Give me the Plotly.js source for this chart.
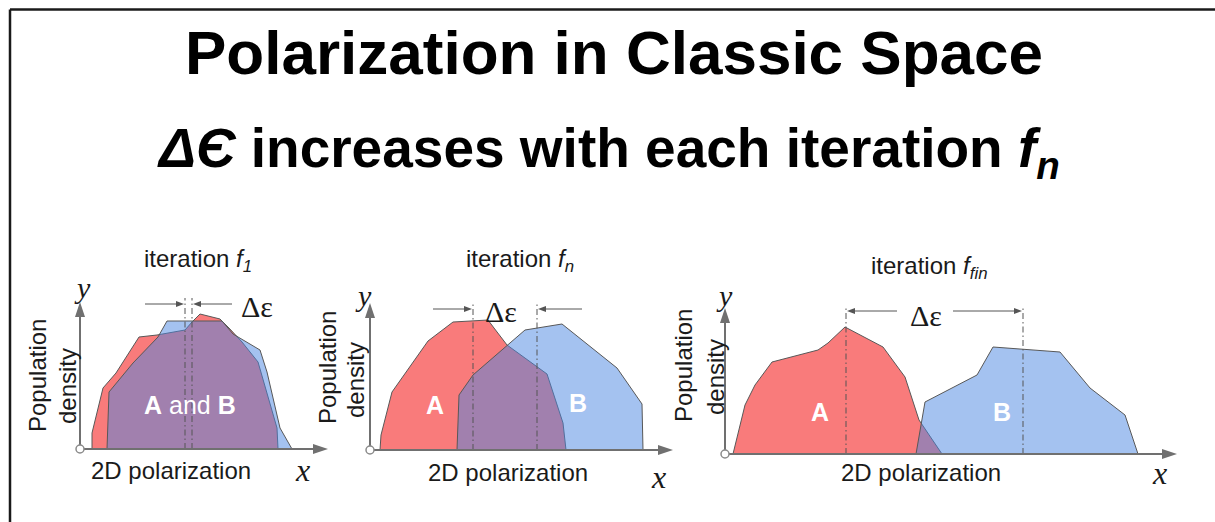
<!DOCTYPE html>
<html>
<head>
<meta charset="utf-8">
<script src="https://cdn.plot.ly/plotly-3.0.1.min.js"></script>
<style>
  html, body { margin: 0; padding: 0; background: #fff; }
  #chart { width: 1215px; height: 522px; }
</style>
</head>
<body>
<div id="chart"></div>
<script>
/* Population density of groups A and B along the polarization axis,
   read off the three panels (x = polarization, y = density). */

// iteration f1
const f1_A_x = [12, 12, 23, 36, 59, 77, 105, 112, 120, 140, 149, 162, 178, 197, 198];
const f1_A_y = [0, 16, 61, 76, 112, 114, 119, 127, 135, 130, 121, 107, 87, 21, 0];
const f1_B_x = [27, 29, 53, 78, 87, 112, 142, 153, 180, 187, 200, 212];
const f1_B_y = [0, 57, 86, 112, 128, 128, 128, 115, 99, 77, 21, 0];

// iteration fn
const fn_A_x = [10, 11, 22, 58, 83, 118, 124, 137, 177, 193, 196];
const fn_A_y = [0, 15, 58, 109, 128, 130, 122, 105, 76, 27, 0];
const fn_B_x = [87, 89, 103, 155, 192, 247, 272, 273];
const fn_B_y = [0, 55, 75, 120, 126, 82, 46, 0];

// iteration ffin
const ffin_A_x = [8, 20, 30, 47, 93, 103, 120, 158, 180, 194, 217];
const ffin_A_y = [0, 49, 69, 92, 104, 111, 127, 107, 77, 34, 0];
const ffin_B_x = [191, 200, 252, 268, 335, 365, 400, 413];
const ffin_B_y = [0, 52, 79, 107, 102, 66, 39, 0];

// centres of A and B (dash-dot markers) and where the delta-epsilon arrows start
const f1_centres = [105, 112];
const fn_centres = [103, 167];
const ffin_centres = [121, 298];
const f1_arrowTails = [65, 152];
const fn_arrowTails = [63, 212];
const ffin_arrowTails = [172, 228];

const iterationLabels = ['iteration <i>f<sub>1</sub></i>', 'iteration <i>f<sub>n</sub></i>', 'iteration <i>f<sub>fin</sub></i>'];
const groupLabels = [['<b>A</b> and <b>B</b>'], ['<b>A</b>', '<b>B</b>'], ['<b>A</b>', '<b>B</b>']];

const W = 1215, H = 522;
const px = x => x / W;
const py = y => 1 - y / H;

const RED = '#F97B7B';
const BLUE = 'rgba(73,133,225,0.5)';
const EDGE = '#585858';
const AXIS = '#707070';
const SANS = 'Liberation Sans, Arial, sans-serif';
const SERIF = 'Liberation Serif, Times New Roman, serif';

// panel placement on the page (pixels), one unit of data = one pixel
const panels = [
    { ox: 80, oy: 449, xLen: 248, yLen: 147, A: [f1_A_x, f1_A_y], B: [f1_B_x, f1_B_y],
      centres: f1_centres, tails: f1_arrowTails, top: 151, arrowY: 145,
      title: [198, 260], xlab: [171, 470], pop: [37, 376], dens: [67, 386], ysym: [82, 287], xsym: [302, 470],
      de: [257, 306], groups: [[190, 405]] },
    { ox: 370, oy: 450, xLen: 303, yLen: 147, A: [fn_A_x, fn_A_y], B: [fn_B_x, fn_B_y],
      centres: fn_centres, tails: fn_arrowTails, top: 147, arrowY: 141,
      title: [520, 260], xlab: [508, 472], pop: [327, 368], dens: [355, 380], ysym: [363, 295], xsym: [658, 477],
      de: [501, 311], groups: [[435, 405], [578, 403]] },
    { ox: 725, oy: 454, xLen: 452, yLen: 146, A: [ffin_A_x, ffin_A_y], B: [ffin_B_x, ffin_B_y],
      centres: ffin_centres, tails: ffin_arrowTails, top: 147, arrowY: 143,
      title: [929, 267], xlab: [921, 472], pop: [683, 366], dens: [715, 377], ysym: [724, 295], xsym: [1159, 473],
      de: [926, 315], groups: [[820, 412], [1002, 412]] }
];

function arrowShapes(xref, yref, x0, y0, x1, y1, color, width, hl, hw) {
    const len = Math.hypot(x1 - x0, y1 - y0);
    const ux = (x1 - x0) / len, uy = (y1 - y0) / len;
    const bx = x1 - ux * hl, by = y1 - uy * hl;
    const nx = -uy * hw, ny = ux * hw;
    return [
        { type: 'line', xref, yref, x0, y0, x1: bx, y1: by, line: { color, width } },
        { type: 'path', xref, yref, path: `M${x1},${y1} L${bx + nx},${by + ny} L${bx - nx},${by - ny} Z`,
          fillcolor: color, line: { color, width: 0 } }
    ];
}

const traces = [];
const shapes = [];
const annotations = [];
const layout = {
    width: W, height: H,
    margin: { l: 0, r: 0, t: 0, b: 0 },
    paper_bgcolor: '#fff', plot_bgcolor: 'rgba(0,0,0,0)',
    showlegend: false
};

function label(text, x, y, size, opts) {
    annotations.push(Object.assign({
        text, x: px(x), y: py(y), xref: 'paper', yref: 'paper',
        showarrow: false, xanchor: 'center', yanchor: 'middle',
        font: { family: SANS, size, color: '#1a1a1a' }
    }, opts || {}));
}

panels.forEach((p, i) => {
    const n = i === 0 ? '' : String(i + 1);
    const xr = [-25, p.xLen + 10], yr = [-20, p.yLen + 22];
    layout['xaxis' + n] = { domain: [px(p.ox + xr[0]), px(p.ox + xr[1])], range: xr, visible: false, fixedrange: true };
    layout['yaxis' + n] = { domain: [py(p.oy - yr[0]), py(p.oy - yr[1])], range: yr, visible: false, fixedrange: true, anchor: 'x' + n };
    layout['xaxis' + n].anchor = 'y' + n;
    const xref = 'x' + n, yref = 'y' + n;

    traces.push({ x: p.A[0], y: p.A[1], xaxis: xref, yaxis: yref, mode: 'lines', fill: 'toself',
                  fillcolor: RED, line: { color: EDGE, width: 1 }, hoverinfo: 'skip' });
    traces.push({ x: p.B[0], y: p.B[1], xaxis: xref, yaxis: yref, mode: 'lines', fill: 'toself',
                  fillcolor: BLUE, line: { color: EDGE, width: 1 }, hoverinfo: 'skip' });

    // centre markers
    p.centres.forEach(c => {
        shapes.push({ type: 'line', xref, yref, x0: c, x1: c, y0: 0, y1: p.top,
                      line: { color: '#555', width: 1, dash: '6px,3px,1.5px,3px' } });
    });
    // delta-epsilon arrows
    p.tails.forEach((t, k) => {
        const c = p.centres[k];
        const head = c + (t < c ? -1 : 1);
        shapes.push(...arrowShapes(xref, yref, t, p.arrowY, head, p.arrowY, '#555', 1, 8, 3));
    });
    // axes with arrow heads and the origin dot
    shapes.push(...arrowShapes(xref, yref, 0, 0, p.xLen, 0, AXIS, 2, 15, 5));
    shapes.push(...arrowShapes(xref, yref, 0, 0, 0, p.yLen, AXIS, 2, 15, 5));
    shapes.push({ type: 'circle', xref, yref, x0: -4, x1: 4, y0: -4, y1: 4,
                  fillcolor: '#fff', line: { color: '#8a8a8a', width: 1.5 } });

    label(iterationLabels[i], p.title[0], p.title[1], 24);
    label('2D polarization', p.xlab[0], p.xlab[1], 24);
    label('Population', p.pop[0], p.pop[1], 24, { textangle: -90 });
    label('density', p.dens[0], p.dens[1], 24, { textangle: -90 });
    label('<i>y</i>', p.ysym[0], p.ysym[1], 30, { font: { family: SERIF, size: 30, color: '#1a1a1a' } });
    label('<i>x</i>', p.xsym[0], p.xsym[1], 30, { font: { family: SERIF, size: 32, color: '#1a1a1a' } });
    label('Δε', p.de[0], p.de[1], 30, { font: { family: SERIF, size: 30, color: '#1a1a1a' } });
    p.groups.forEach((g, k) => {
        label(groupLabels[i][k], g[0], g[1], 24, { font: { family: SANS, size: 25, color: '#fff' } });
    });
});

// headline
label('<b>Polarization in Classic Space</b>', 614, 53, 62, { font: { family: SANS, size: 62, color: '#000' } });
label('<b><i>ΔЄ</i> increases with each iteration <i>f<sub>n</sub></i></b>', 608, 152, 55,
      { font: { family: SANS, size: 55, color: '#000' } });

// page frame (top and left edges)
shapes.push({ type: 'line', xref: 'paper', yref: 'paper', x0: px(10), x1: 1, y0: py(9.5), y1: py(9.5), line: { color: '#1a1a1a', width: 2.5 } });
shapes.push({ type: 'line', xref: 'paper', yref: 'paper', x0: px(10), x1: px(10), y0: py(9.5), y1: 0, line: { color: '#1a1a1a', width: 2.5 } });

layout.shapes = shapes;
layout.annotations = annotations;

Plotly.newPlot('chart', traces, layout, { displayModeBar: false, staticPlot: true });
</script>
</body>
</html>
